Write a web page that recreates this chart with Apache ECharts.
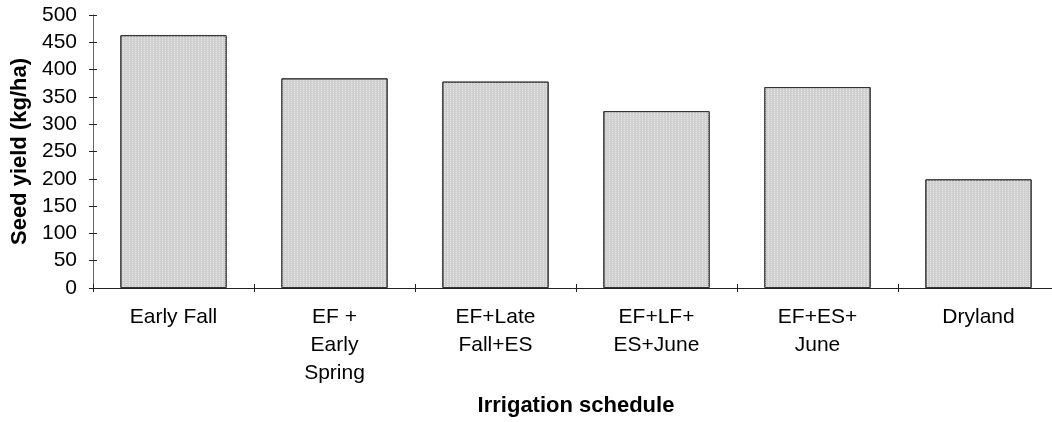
<!DOCTYPE html>
<html>
<head>
<meta charset="utf-8">
<script src="https://cdn.jsdelivr.net/npm/echarts@6/dist/echarts.min.js"></script>
<style>html,body{margin:0;padding:0;background:#fff}#c{width:1052px;height:422px}</style>
</head>
<body>
<div id="c"></div>
<script>
const categories = ['Early Fall', 'EF +\nEarly\nSpring', 'EF+Late\nFall+ES', 'EF+LF+\nES+June', 'EF+ES+\nJune', 'Dryland'];
const seedYield = [463, 384, 378, 324, 368, 199];
const yTicks = { min: 0, max: 500, interval: 50 };
const xTitle = 'Irrigation schedule';
const yTitle = 'Seed yield (kg/ha)';

const FONT = '"Liberation Sans", Arial, sans-serif';
const chart = echarts.init(document.getElementById('c'), null, { renderer: 'canvas' });
chart.setOption({
  animation: false,
  backgroundColor: '#fff',
  grid: { left: 93, top: 15, width: 966, height: 273, containLabel: false, outerBoundsMode: 'none' },
  xAxis: [{
    type: 'category',
    data: categories,
    name: xTitle,
    nameLocation: 'middle',
    nameGap: 107,
    nameTextStyle: { fontFamily: FONT, fontSize: 22, fontWeight: 'bold', color: '#000' },
    axisLine: { lineStyle: { color: '#222', width: 1 } },
    axisTick: { show: true, length: 4, lineStyle: { color: '#222' } },
    axisLabel: { fontFamily: FONT, fontSize: 21, color: '#000', margin: 15, lineHeight: 28, interval: 0 },
    splitLine: { show: false }
  }, {
    type: 'category',
    data: categories,
    position: 'bottom',
    axisLine: { show: false },
    axisTick: { show: true, inside: true, length: 4, lineStyle: { color: '#222' } },
    axisLabel: { show: false },
    splitLine: { show: false }
  }],
  yAxis: [{
    type: 'value',
    min: yTicks.min, max: yTicks.max, interval: yTicks.interval,
    name: yTitle,
    nameLocation: 'middle',
    nameGap: 61,
    nameTextStyle: { fontFamily: FONT, fontSize: 22, fontWeight: 'bold', color: '#000' },
    axisLine: { show: true, lineStyle: { color: '#666', width: 1 } },
    axisTick: { show: true, length: 4, lineStyle: { color: '#222' } },
    axisLabel: { fontFamily: FONT, fontSize: 21, color: '#000', margin: 16 },
    splitLine: { show: false }
  }, {
    type: 'value',
    position: 'left',
    min: yTicks.min, max: yTicks.max, interval: yTicks.interval,
    axisLine: { show: false },
    axisTick: { show: true, inside: true, length: 4, lineStyle: { color: '#222' } },
    axisLabel: { show: false },
    splitLine: { show: false }
  }],
  series: [{
    type: 'bar',
    data: seedYield,
    barWidth: '66%',
    itemStyle: {
      color: '#d0d0d0',
      borderColor: '#333',
      borderWidth: 1,
      decal: {
        symbol: 'rect',
        symbolSize: 1,
        dashArrayX: [1, 2],
        dashArrayY: [1, 1],
        color: 'rgba(235,235,235,0.8)'
      }
    }
  }]
});
</script>
</body>
</html>
